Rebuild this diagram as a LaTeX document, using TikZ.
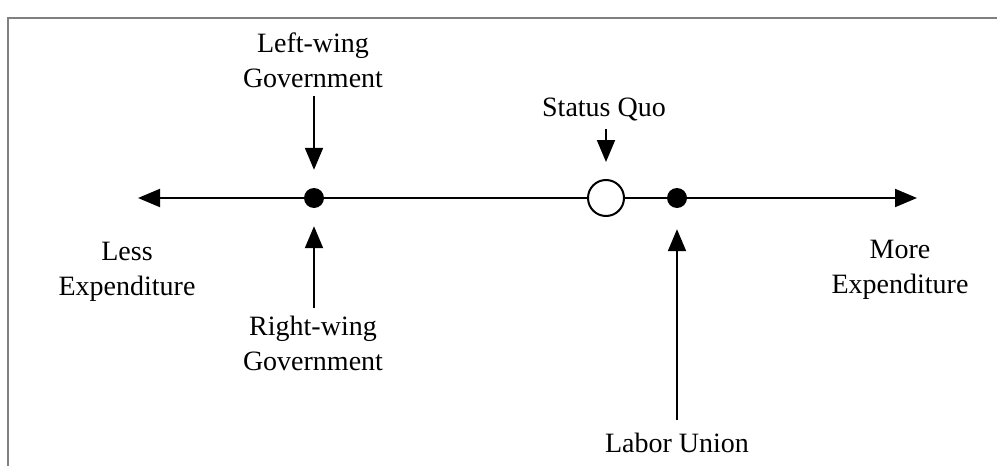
\documentclass[tikz,border=0pt]{standalone}
\usepackage{fontspec}
\setmainfont{Liberation Serif}
\usetikzlibrary{arrows.meta}
\begin{document}
\begin{tikzpicture}[x=1pt,y=-1pt,
  lbl/.style={font=\fontsize{28}{35}\selectfont, align=center, inner sep=0pt, anchor=north},
  arr/.style={line width=2pt, -{Triangle[length=22pt,width=18pt]}},
  axisline/.style={line width=2pt, {Triangle[length=22pt,width=18pt]}-{Triangle[length=22pt,width=18pt]}},
  dot/.style={circle, fill=black, minimum size=20pt, inner sep=0pt},
  sqdot/.style={circle, draw=black, fill=white, line width=2pt, minimum size=36pt, inner sep=0pt}]
\useasboundingbox (0,0) rectangle (997,466);
\draw[gray, line width=2pt] (8,470) -- (8,18) -- (1000,18);
% axis
\coordinate (axL) at (138,198);
\coordinate (axR) at (917,198);
\draw[axisline] (axL) -- (axR);
% points
\node[dot] (ldot) at (314,198) {};
\node[sqdot] (sq) at (606,198) {};
\node[dot] (lu) at (677,198) {};
% labels
\node[lbl] (lw) at (313,33) {Left-wing\\Government};
\node[lbl] (rw) at (313,316) {Right-wing\\Government};
\node[lbl] (sqt) at (604,98) {Status Quo};
\node[lbl] (lut) at (677,433) {Labor Union};
\node[lbl] (less) at (127,242) {Less\\Expenditure};
\node[lbl] (more) at (900,240) {More\\Expenditure};
% arrows
\draw[arr] ([yshift=-8pt]lw.south -| ldot.north) -- ([yshift=18pt]ldot.north);
\draw[arr] ([yshift=8pt]rw.north -| ldot.south) -- ([yshift=-18pt]ldot.south);
\draw[arr] ([yshift=-8pt]sqt.south -| sq.north) -- ([yshift=17pt]sq.north);
\draw[arr] ([yshift=13pt]lut.north) -- ([yshift=-21pt]lu.south);
\end{tikzpicture}
\end{document}
